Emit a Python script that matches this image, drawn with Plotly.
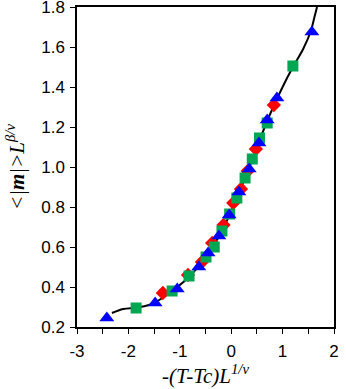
import plotly.graph_objects as go

# data
blue_x = [-2.42, -1.48, -1.05, -0.63, -0.45, -0.24, -0.04, 0.15, 0.35, 0.54, 0.70, 0.89, 1.57]
blue_y = [0.245, 0.32, 0.39, 0.50, 0.57, 0.655, 0.76, 0.875, 0.99, 1.12, 1.235, 1.345, 1.675]

green_x = [-1.85, -1.15, -0.82, -0.49, -0.33, -0.18, -0.03, 0.11, 0.27, 0.41, 0.55, 0.70, 1.20]
green_y = [0.295, 0.38, 0.455, 0.55, 0.60, 0.68, 0.765, 0.845, 0.945, 1.04, 1.145, 1.22, 1.505]

red_x = [-1.33, -0.84, -0.57, -0.37, -0.15, 0.04, 0.19, 0.32, 0.48, 0.83]
red_y = [0.37, 0.46, 0.525, 0.62, 0.71, 0.82, 0.89, 0.98, 1.09, 1.31]

fit_x = [-2.32, -2.1, -1.85, -1.6, -1.4, -1.15, -0.8, -0.5, -0.2, 0.1, 0.4, 0.7, 1.0, 1.2, 1.4, 1.55, 1.62, 1.67]
fit_y = [0.27, 0.29, 0.297, 0.31, 0.335, 0.38, 0.455, 0.55, 0.67, 0.84, 1.03, 1.23, 1.40, 1.50, 1.59, 1.68, 1.75, 1.80]

x_ticks = [-3, -2, -1, 0, 1, 2]
x_ticklabels = ["-3", "-2", "-1", "0", "1", "2"]
y_ticks = [0.2, 0.4, 0.6, 0.8, 1.0, 1.2, 1.4, 1.6, 1.8]
y_ticklabels = ["0.2", "0.4", "0.6", "0.8", "1.0", "1.2", "1.4", "1.6", "1.8"]

fig = go.Figure()
fig.add_trace(go.Scatter(x=fit_x, y=fit_y, mode="lines",
                         line=dict(color="black", width=2, shape="spline"),
                         showlegend=False))
fig.add_trace(go.Scatter(x=red_x, y=red_y, mode="markers",
                         marker=dict(symbol="diamond", size=11, color="#ff0000"),
                         showlegend=False))
fig.add_trace(go.Scatter(x=green_x, y=green_y, mode="markers",
                         marker=dict(symbol="square", size=11, color="#00a651"),
                         showlegend=False))
fig.add_trace(go.Scatter(x=blue_x, y=blue_y, mode="markers",
                         marker=dict(symbol="triangle-up", size=13, color="#0000ff"),
                         showlegend=False))

axis_font = dict(family="Liberation Sans, Arial", size=17, color="black")
title_font = dict(family="Liberation Serif, Times New Roman", size=21, color="black")

fig.update_xaxes(range=[-3, 2], tickvals=x_ticks, ticktext=x_ticklabels,
                 ticks="outside", ticklen=5, tickcolor="black", tickfont=axis_font,
                 showgrid=False, zeroline=False, automargin=False,
                 ticklabeloverflow="allow", ticklabelstandoff=3,
                 showline=True, linecolor="black", linewidth=1.5, mirror=True,
                 minor=dict(dtick=0.5, tick0=-3, ticks="outside", ticklen=5, tickcolor="black"),
                 title=dict(text="<i>-(T-Tc)L<sup>1/ν</sup></i>", font=title_font, standoff=0))
fig.update_yaxes(range=[0.2, 1.8], tickvals=y_ticks, ticktext=y_ticklabels,
                 ticks="outside", ticklen=5, tickcolor="black", tickfont=axis_font,
                 showgrid=False, zeroline=False, automargin=False,
                 ticklabeloverflow="allow", ticklabelstandoff=2,
                 showline=True, linecolor="black", linewidth=1.5, mirror=True,
                 title=dict(text="<i><|<b>m</b>|>L<sup>β/ν</sup></i>", font=title_font, standoff=11))

fig.update_layout(width=346, height=389, margin=dict(l=77, r=12, t=7, b=62),
                  plot_bgcolor="white", paper_bgcolor="white")

# drop the default page margin so the figure sits at the window's corner
fig.write_html("out.html", config={"displayModeBar": False},
               post_script="document.body.style.margin='0';")
